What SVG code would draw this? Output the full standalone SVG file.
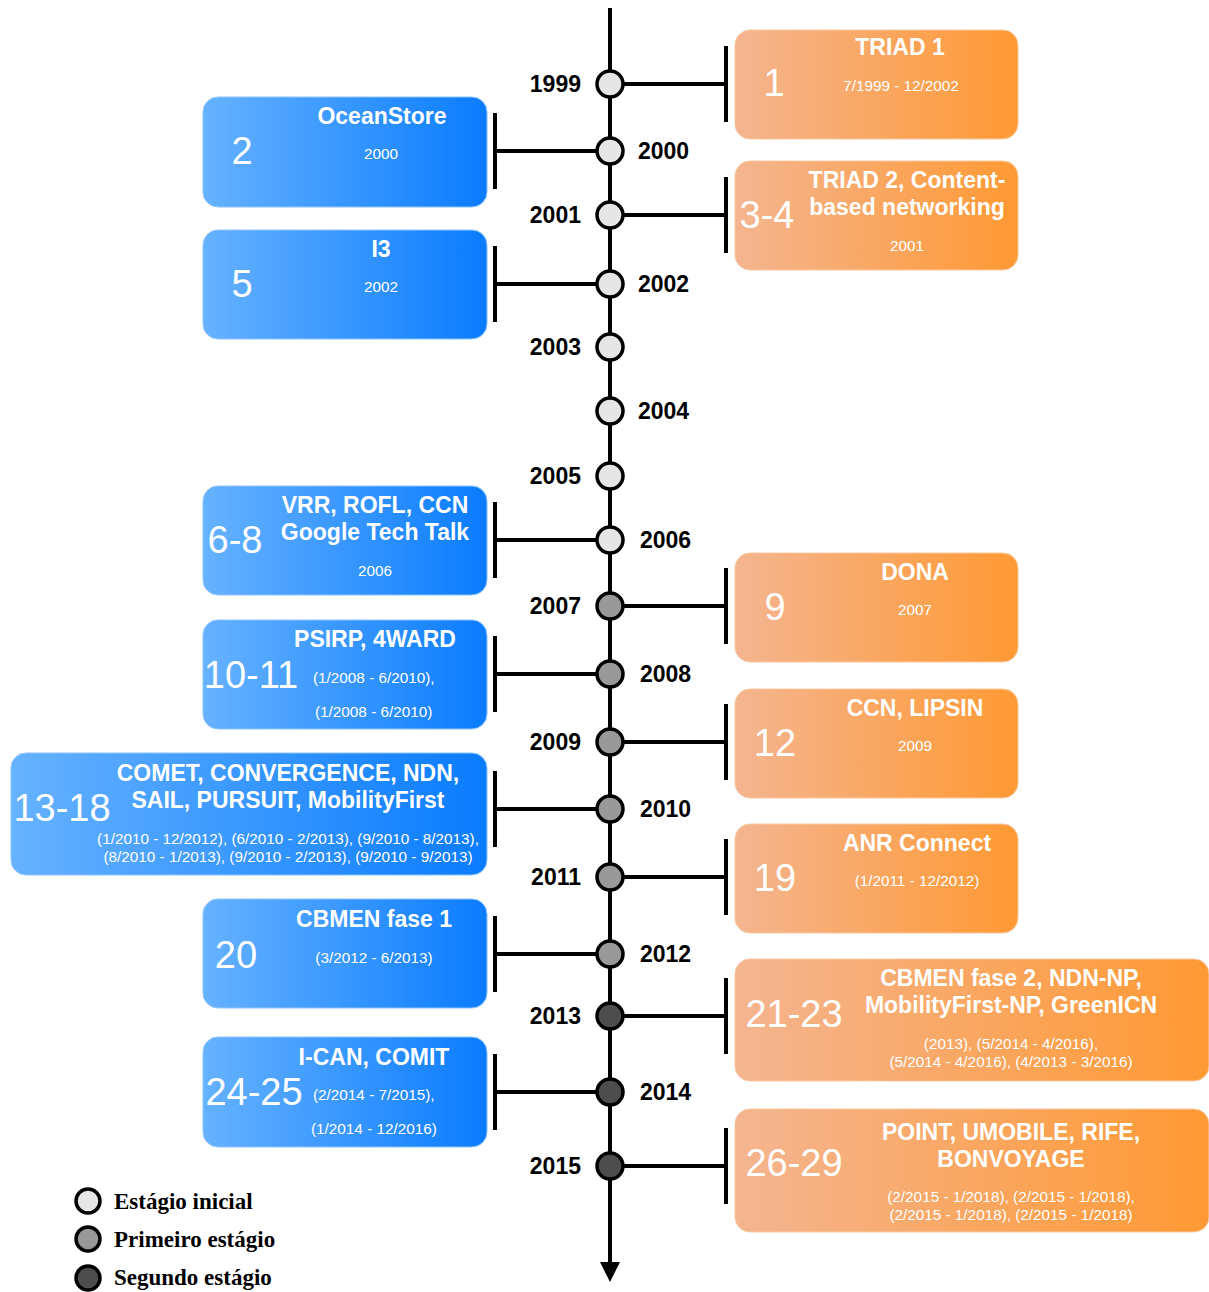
<svg xmlns="http://www.w3.org/2000/svg" width="1209" height="1292" viewBox="0 0 1209 1292">
<defs>
<linearGradient id="gb" x1="0" y1="0" x2="1" y2="0">
<stop offset="0" stop-color="#66b2ff"/>
<stop offset="1" stop-color="#0a7cff"/>
</linearGradient>
<linearGradient id="go" x1="0" y1="0" x2="1" y2="0">
<stop offset="0" stop-color="#f4b590"/>
<stop offset="1" stop-color="#ff9933"/>
</linearGradient>
</defs>
<style>
.bb{fill:url(#gb);stroke:#8cc4ff;stroke-width:1}
.ob{fill:url(#go);stroke:#f8c8a0;stroke-width:1}
.t{font-family:"Liberation Sans",Arial,sans-serif;font-weight:bold;font-size:23px;fill:#fff;text-anchor:middle}
.n{font-family:"Liberation Sans",Arial,sans-serif;font-size:38px;fill:#fff;text-anchor:middle}
.d{font-family:"Liberation Sans",Arial,sans-serif;font-size:15.3px;fill:#fff;text-anchor:middle}
.ds{font-family:"Liberation Sans",Arial,sans-serif;font-size:15.3px;fill:#fff}
.yl{font-family:"Liberation Sans",Arial,sans-serif;font-weight:bold;font-size:23px;fill:#000;text-anchor:end}
.yr{font-family:"Liberation Sans",Arial,sans-serif;font-weight:bold;font-size:23px;fill:#000}
.c{stroke:#000;stroke-width:4;fill:none}
.dot{stroke:#000;stroke-width:3.5}
.s0{fill:#e6e6e6}
.s1{fill:#999999}
.s2{fill:#4d4d4d}
.lg{font-family:"Liberation Serif","Times New Roman",serif;font-weight:bold;font-size:23px;fill:#000}
</style>

<g id="connectors">
<line class="c" x1="610" y1="8" x2="610" y2="1264"/>
<polygon points="600,1262 620,1262 610,1282" fill="#000"/>
<path class="c" d="M610,84 H726 M726,46 V122"/>
<path class="c" d="M610,215 H726 M726,177 V253"/>
<path class="c" d="M610,606 H726 M726,568 V644"/>
<path class="c" d="M610,742 H726 M726,704 V780"/>
<path class="c" d="M610,877 H726 M726,839 V915"/>
<path class="c" d="M610,1016 H726 M726,978 V1054"/>
<path class="c" d="M610,1166 H726 M726,1128 V1204"/>
<path class="c" d="M610,151 H495 M495,113 V189"/>
<path class="c" d="M610,284 H495 M495,246 V322"/>
<path class="c" d="M610,540 H495 M495,502 V578"/>
<path class="c" d="M610,674 H495 M495,636 V712"/>
<path class="c" d="M610,809 H495 M495,771 V847"/>
<path class="c" d="M610,954 H495 M495,916 V992"/>
<path class="c" d="M610,1092 H495 M495,1054 V1130"/>
</g>

<g id="years">
<circle class="dot s0" cx="610" cy="84" r="13"/><text class="yl" x="581" y="92">1999</text>
<circle class="dot s0" cx="610" cy="151" r="13"/><text class="yr" x="638" y="159">2000</text>
<circle class="dot s0" cx="610" cy="215" r="13"/><text class="yl" x="581" y="223">2001</text>
<circle class="dot s0" cx="610" cy="284" r="13"/><text class="yr" x="638" y="292">2002</text>
<circle class="dot s0" cx="610" cy="347" r="13"/><text class="yl" x="581" y="355">2003</text>
<circle class="dot s0" cx="610" cy="411" r="13"/><text class="yr" x="638" y="419">2004</text>
<circle class="dot s0" cx="610" cy="476" r="13"/><text class="yl" x="581" y="484">2005</text>
<circle class="dot s0" cx="610" cy="540" r="13"/><text class="yr" x="640" y="548">2006</text>
<circle class="dot s1" cx="610" cy="606" r="13"/><text class="yl" x="581" y="614">2007</text>
<circle class="dot s1" cx="610" cy="674" r="13"/><text class="yr" x="640" y="682">2008</text>
<circle class="dot s1" cx="610" cy="742" r="13"/><text class="yl" x="581" y="750">2009</text>
<circle class="dot s1" cx="610" cy="809" r="13"/><text class="yr" x="640" y="817">2010</text>
<circle class="dot s1" cx="610" cy="877" r="13"/><text class="yl" x="581" y="885">2011</text>
<circle class="dot s1" cx="610" cy="954" r="13"/><text class="yr" x="640" y="962">2012</text>
<circle class="dot s2" cx="610" cy="1016" r="13"/><text class="yl" x="581" y="1024">2013</text>
<circle class="dot s2" cx="610" cy="1092" r="13"/><text class="yr" x="640" y="1100">2014</text>
<circle class="dot s2" cx="610" cy="1166" r="13"/><text class="yl" x="581" y="1174">2015</text>
</g>

<g id="n1">
<rect class="ob" x="735" y="30" width="283" height="109" rx="15"/>
<text class="t" x="900" y="55">TRIAD 1</text>
<text class="n" x="774" y="96">1</text>
<text class="d" x="901" y="91">7/1999 - 12/2002</text>
</g>
<g id="n2">
<rect class="bb" x="203" y="97" width="284" height="110" rx="15"/>
<text class="t" x="382" y="124">OceanStore</text>
<text class="n" x="242" y="164">2</text>
<text class="d" x="381" y="159">2000</text>
</g>
<g id="n3">
<rect class="ob" x="735" y="161" width="283" height="109" rx="15"/>
<text class="t" x="907" y="188">TRIAD 2, Content-</text>
<text class="t" x="907" y="215">based networking</text>
<text class="n" x="767" y="228">3-4</text>
<text class="d" x="907" y="251">2001</text>
</g>
<g id="n5">
<rect class="bb" x="203" y="230" width="284" height="109" rx="15"/>
<text class="t" x="381" y="257">I3</text>
<text class="n" x="242" y="297">5</text>
<text class="d" x="381" y="292">2002</text>
</g>
<g id="n6">
<rect class="bb" x="203" y="486" width="284" height="109" rx="15"/>
<text class="t" x="375" y="513">VRR, ROFL, CCN</text>
<text class="t" x="375" y="540">Google Tech Talk</text>
<text class="n" x="235" y="553">6-8</text>
<text class="d" x="375" y="576">2006</text>
</g>
<g id="n9">
<rect class="ob" x="735" y="553" width="283" height="109" rx="15"/>
<text class="t" x="915" y="580">DONA</text>
<text class="n" x="775" y="620">9</text>
<text class="d" x="915" y="615">2007</text>
</g>
<g id="n10">
<rect class="bb" x="203" y="620" width="284" height="109" rx="15"/>
<text class="t" x="375" y="647">PSIRP, 4WARD</text>
<text class="n" x="251" y="688">10-11</text>
<text class="ds" x="313" y="683">(1/2008 - 6/2010),</text>
<text class="ds" x="315" y="717">(1/2008 - 6/2010)</text>
</g>
<g id="n12">
<rect class="ob" x="735" y="689" width="283" height="109" rx="15"/>
<text class="t" x="915" y="716">CCN, LIPSIN</text>
<text class="n" x="775" y="756">12</text>
<text class="d" x="915" y="751">2009</text>
</g>
<g id="n13">
<rect class="bb" x="11" y="753" width="476" height="122" rx="15"/>
<text class="t" x="288" y="781">COMET, CONVERGENCE, NDN,</text>
<text class="t" x="288" y="808">SAIL, PURSUIT, MobilityFirst</text>
<text class="n" x="62" y="821">13-18</text>
<text class="d" x="288" y="844">(1/2010 - 12/2012), (6/2010 - 2/2013), (9/2010 - 8/2013),</text>
<text class="d" x="288" y="862">(8/2010 - 1/2013), (9/2010 - 2/2013), (9/2010 - 9/2013)</text>
</g>
<g id="n19">
<rect class="ob" x="735" y="824" width="283" height="109" rx="15"/>
<text class="t" x="917" y="851">ANR Connect</text>
<text class="n" x="775" y="891">19</text>
<text class="d" x="917" y="886">(1/2011 - 12/2012)</text>
</g>
<g id="n20">
<rect class="bb" x="203" y="899" width="284" height="109" rx="15"/>
<text class="t" x="374" y="927">CBMEN fase 1</text>
<text class="n" x="236" y="968">20</text>
<text class="d" x="374" y="963">(3/2012 - 6/2013)</text>
</g>
<g id="n21">
<rect class="ob" x="735" y="959" width="474" height="122" rx="15"/>
<text class="t" x="1011" y="986">CBMEN fase 2, NDN-NP,</text>
<text class="t" x="1011" y="1013">MobilityFirst-NP, GreenICN</text>
<text class="n" x="794" y="1027">21-23</text>
<text class="d" x="1011" y="1049">(2013), (5/2014 - 4/2016),</text>
<text class="d" x="1011" y="1067">(5/2014 - 4/2016), (4/2013 - 3/2016)</text>
</g>
<g id="n24">
<rect class="bb" x="203" y="1037" width="284" height="110" rx="15"/>
<text class="t" x="374" y="1065">I-CAN, COMIT</text>
<text class="n" x="254" y="1105">24-25</text>
<text class="ds" x="313" y="1100">(2/2014 - 7/2015),</text>
<text class="ds" x="311" y="1134">(1/2014 - 12/2016)</text>
</g>
<g id="n26">
<rect class="ob" x="735" y="1109" width="474" height="123" rx="15"/>
<text class="t" x="1011" y="1140">POINT, UMOBILE, RIFE,</text>
<text class="t" x="1011" y="1167">BONVOYAGE</text>
<text class="n" x="794" y="1176">26-29</text>
<text class="d" x="1011" y="1202">(2/2015 - 1/2018), (2/2015 - 1/2018),</text>
<text class="d" x="1011" y="1220">(2/2015 - 1/2018), (2/2015 - 1/2018)</text>
</g>

<g id="legend">
<circle class="dot s0" cx="88" cy="1201" r="12"/>
<text class="lg" x="114" y="1209">Estágio inicial</text>
<circle class="dot s1" cx="88" cy="1239" r="12"/>
<text class="lg" x="114" y="1247">Primeiro estágio</text>
<circle class="dot s2" cx="88" cy="1278" r="12"/>
<text class="lg" x="114" y="1285">Segundo estágio</text>
</g>
</svg>
